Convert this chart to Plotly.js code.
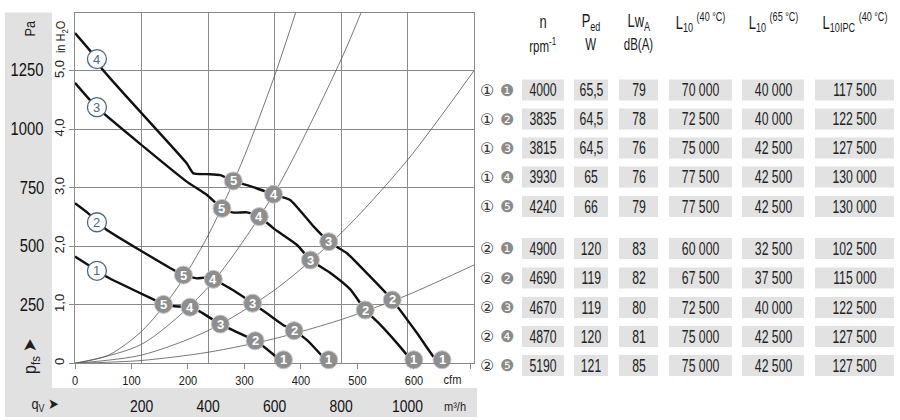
<!DOCTYPE html>
<html><head><meta charset="utf-8">
<script src="https://cdn.plot.ly/plotly-3.0.1.min.js"></script>
<style>html,body{margin:0;padding:0;background:#fff;}#chart{width:900px;height:420px;}</style>
</head><body><div id="chart"></div>
<script>
// ---------- DATA (flow in m³/h, pressure in Pa) ----------
const curve1Flow = [0, 40, 95, 251, 266, 295, 321, 346, 376, 437, 542, 557, 602, 627];
const curve1Pa   = [455, 419, 369, 262, 251, 244, 241, 239, 220, 167, 96, 82, 31, 0];
const curve2Flow = [0, 40, 93, 306, 326, 366, 391, 416, 476, 534, 577, 626, 659, 698, 763];
const curve2Pa   = [682, 639, 571, 390, 376, 362, 365, 358, 311, 256, 213, 163, 139, 99, 0];
const curve3Flow = [0, 65, 206, 336, 397, 442, 477, 517, 554, 597, 668, 708, 768, 828, 873, 918, 969, 1019];
const curve3Pa   = [1195, 1091, 923, 774, 717, 660, 642, 643, 625, 575, 504, 440, 385, 315, 227, 165, 85, 0];
const curve4Flow = [0, 66, 80, 336, 356, 397, 437, 476, 527, 597, 647, 718, 763, 818, 888, 954, 1029, 1079, 1104];
const curve4Pa   = [1407, 1296, 1257, 852, 809, 806, 802, 777, 755, 720, 696, 582, 518, 469, 369, 270, 128, 27, 0];

// system resistance lines (through operating points 5,4,3,2)
const sys5Flow = [0, 100, 200, 300, 400, 500, 600, 665];
const sys5Pa   = [0, 34, 136, 306, 544, 850, 1224, 1500];
const sys4Flow = [0, 200, 400, 600, 800, 865];
const sys4Pa   = [0, 81, 323, 727, 1293, 1510];
const sys3Flow = [0, 200, 400, 600, 800, 1000, 1200];
const sys3Pa   = [0, 35, 139, 312, 554, 866, 1247];
const sys2Flow = [0, 200, 400, 600, 800, 1000, 1200];
const sys2Pa   = [0, 12, 47, 105, 186, 291, 419];

// operating points 1..5 on each curve
const opLabels = ['1', '2', '3', '4', '5'];
const op1Flow = [627, 542, 437, 346, 266];
const op1Pa   = [15, 96, 167, 239, 251];
const op2Flow = [763, 659, 534, 416, 326];
const op2Pa   = [15, 139, 256, 358, 376];
const op3Flow = [1019, 873, 708, 554, 442];
const op3Pa   = [15, 227, 440, 625, 660];
const op4Flow = [1104, 954, 763, 597, 476];
const op4Pa   = [15, 270, 518, 720, 777];

// curve identification labels
const curveIds = ['1', '2', '3', '4'];
const curveIdFlow = [66, 66, 66, 66];
const curveIdPa = [394, 601, 1091, 1296];

// axis ticks
const m3hTicks = [200, 400, 600, 800, 1000];
const cfmTicks = [0, 100, 200, 300, 400, 500, 600, 700];
const cfmTickText = ['0', '100', '200', '300', '400', '500', '600', ' '];
const inH2OTicks = [0, 1, 2, 3, 4, 5];
const inH2OTickText = ['0', '1,0', '2,0', '3,0', '4,0', '5,0'];
const paTicks = [250, 500, 750, 1000, 1250];

// table
const rowVariant = ['①','①','①','①','①','②','②','②','②','②'];
const rowPoint   = ['❶','❷','❸','❹','❺','❶','❷','❸','❹','❺'];
const colRpm    = ['4000','3835','3815','3930','4240','4900','4690','4670','4870','5190'];
const colPed    = ['65,5','64,5','64,5','65','66','120','119','119','120','121'];
const colLwA    = ['79','78','76','76','79','83','82','80','81','85'];
const colL10_40 = ['70 000','72 500','75 000','77 500','77 500','60 000','67 500','72 500','75 000','75 000'];
const colL10_65 = ['40 000','40 000','42 500','42 500','42 500','32 500','37 500','40 000','42 500','42 500'];
const colL10IPC = ['117 500','122 500','127 500','130 000','130 000','102 500','115 000','122 500','127 500','127 500'];
const headLine1 = ['n', 'P<sub>ed</sub>', 'Lw<sub>A</sub>', 'L<sub>10</sub> <sup>(40 °C)</sup>', 'L<sub>10</sub> <sup>(65 °C)</sup>', 'L<sub>10IPC</sub> <sup>(40 °C)</sup>'];
const headLine2 = ['rpm<sup>-1</sup>', 'W', 'dB(A)', '', '', ''];

// ---------- LAYOUT HELPERS ----------
const W = 900, H = 420;
const px = x => x / W;
const py = y => 1 - y / H;
const SANS = "'Liberation Sans', Arial, Helvetica, sans-serif";
const GRID = '#8a8a8a';
const M3H_PER_CFM = 1.69901;
const PA_PER_INH2O = 249.09;

// horizontal condensing factors (reference uses a condensed Helvetica)
const squeeze = [];   // [annotation index, factor]
const annotations = [];
function note(text, x, y, size, color, sq, extra) {
  const a = Object.assign({text: text, x: px(x), y: py(y), xref: 'paper', yref: 'paper', showarrow: false,
    xanchor: 'center', yanchor: 'middle', font: {family: SANS, size: size, color: color || '#1e1e1e'}}, extra || {});
  if (sq) squeeze.push([annotations.length, sq]);
  annotations.push(a);
}
function dataLabels(xs, ys, labels, font) {
  xs.forEach((x, i) => annotations.push({text: labels[i], x: x, y: ys[i], xref: 'x', yref: 'y2', showarrow: false,
    xanchor: 'center', yanchor: 'middle', font: font}));
}

const traces = [];
// axis carriers (no visible marks) so that the inH2O and cfm scales are drawn
traces.push({x: [], y: [], xaxis: 'x', yaxis: 'y', type: 'scatter', mode: 'markers', showlegend: false, hoverinfo: 'skip'});
traces.push({x: [], y: [], xaxis: 'x2', yaxis: 'y', type: 'scatter', mode: 'markers', showlegend: false, hoverinfo: 'skip'});

function sysLine(x, y) {
  traces.push({x: x, y: y, xaxis: 'x', yaxis: 'y2', mode: 'lines', type: 'scatter',
    line: {color: '#555', width: 0.8, shape: 'spline', smoothing: 0.8}, hoverinfo: 'skip', showlegend: false});
}
sysLine(sys5Flow, sys5Pa); sysLine(sys4Flow, sys4Pa); sysLine(sys3Flow, sys3Pa); sysLine(sys2Flow, sys2Pa);

function fanCurve(x, y) {
  traces.push({x: x, y: y, xaxis: 'x', yaxis: 'y2', mode: 'lines', type: 'scatter',
    line: {color: '#111', width: 2.4, shape: 'spline', smoothing: 0.5}, hoverinfo: 'skip', showlegend: false});
}
fanCurve(curve1Flow, curve1Pa); fanCurve(curve2Flow, curve2Pa); fanCurve(curve3Flow, curve3Pa); fanCurve(curve4Flow, curve4Pa);

const opFont = {family: SANS, size: 13, color: '#ffffff', weight: 'bold'};
function opPoints(x, y) {
  traces.push({x: x, y: y, xaxis: 'x', yaxis: 'y2', mode: 'markers', type: 'scatter', cliponaxis: false,
    marker: {size: 18, color: '#8e8e8e', line: {color: '#c8c8c8', width: 1}},
    hoverinfo: 'skip', showlegend: false});
  dataLabels(x, y, opLabels, opFont);
}
opPoints(op1Flow, op1Pa); opPoints(op2Flow, op2Pa); opPoints(op3Flow, op3Pa); opPoints(op4Flow, op4Pa);

traces.push({x: curveIdFlow, y: curveIdPa, xaxis: 'x', yaxis: 'y2', mode: 'markers', type: 'scatter', cliponaxis: false,
  marker: {size: 19, color: '#ffffff', line: {color: '#4b6a82', width: 1.3}},
  hoverinfo: 'skip', showlegend: false});
dataLabels(curveIdFlow, curveIdPa, curveIds, {family: SANS, size: 13, color: '#4b6a82'});

// ---------- SHAPES & ANNOTATIONS ----------
const shapes = [
  {type: 'rect', xref: 'paper', yref: 'paper', x0: px(5), x1: px(52), y0: py(417), y1: py(12.5), fillcolor: '#e1e1e1', line: {width: 0}, layer: 'below'},
  {type: 'rect', xref: 'paper', yref: 'paper', x0: px(5), x1: px(477), y0: py(417), y1: py(388), fillcolor: '#e1e1e1', line: {width: 0}, layer: 'below'}
];
note('Pa', 30, 29, 15, '#1e1e1e', 0.85, {textangle: -90});
note('in H<sub>2</sub>O', 61, 37, 13, '#1e1e1e', 0.85, {textangle: -90});
note('p<sub>fs</sub> ➤', 31, 356, 19, '#1e1e1e', 0.85, {textangle: -90});
note('q<sub>V</sub> ➤', 45, 404, 15, '#1e1e1e', 0.85);
note('m³/h', 455, 406, 13, '#1e1e1e', 0.85);
note('cfm', 453, 379, 13, '#1e1e1e', 0.85);

// table
const tableCols = [colRpm, colPed, colLwA, colL10_40, colL10_65, colL10IPC];
const colX0 = [522, 574, 619, 669, 742, 815];
const colX1 = [564, 608, 658, 732, 804, 894];
const rowY = [90, 119, 148, 177, 206.5, 248.5, 278, 307.5, 336.5, 365.5];
tableCols.forEach((col, c) => {
  const xc = (colX0[c] + colX1[c]) / 2;
  note(headLine1[c], xc, 22, 18, '#1a1a1a', 0.72);
  if (headLine2[c]) note(headLine2[c], xc, 45, 16, '#1a1a1a', 0.72);
  col.forEach((v, r) => {
    shapes.push({type: 'rect', xref: 'paper', yref: 'paper', x0: px(colX0[c]), x1: px(colX1[c]),
      y0: py(rowY[r] + 10.5), y1: py(rowY[r] - 10.5), fillcolor: '#e2e2e2', line: {width: 0}, layer: 'below'});
    note(v, xc, rowY[r], 18, '#222', 0.68);
  });
});
rowVariant.forEach((v, r) => {
  note(v, 487, rowY[r], 16, '#333', 0, {font: {family: 'DejaVu Sans, sans-serif', size: 16, color: '#333'}});
  note(rowPoint[r], 507, rowY[r], 16, '#8a8a8a', 0, {font: {family: 'DejaVu Sans, sans-serif', size: 16, color: '#8a8a8a'}});
});

const xDom = [px(75), px(474)];
const yDom = [py(363.3), py(12.5)];
const layout = {
  width: W, height: H, autosize: false,
  margin: {l: 0, r: 0, t: 0, b: 0, pad: 0},
  paper_bgcolor: '#fff', plot_bgcolor: '#fff',
  showlegend: false,
  xaxis: {domain: xDom, range: [0, 1200], anchor: 'y', tickvals: m3hTicks, ticktext: m3hTicks.map(String),
    showgrid: true, gridcolor: GRID, gridwidth: 1, zeroline: false, showline: true, linecolor: GRID, linewidth: 1, mirror: true,
    ticks: '', ticklabelstandoff: 27, tickfont: {family: SANS, size: 17, color: '#111'}},
  xaxis2: {overlaying: 'x', side: 'bottom', anchor: 'y', range: [0, 1200 / M3H_PER_CFM], tickvals: cfmTicks, ticktext: cfmTickText,
    showgrid: false, zeroline: false, showline: false, ticks: 'outside', ticklen: 5, tickcolor: GRID,
    tickfont: {family: SANS, size: 13, color: '#222'}},
  yaxis: {domain: yDom, range: [0, 6], anchor: 'x', tickvals: inH2OTicks, ticktext: inH2OTickText, tickangle: -90,
    showgrid: true, gridcolor: GRID, gridwidth: 1, zeroline: false, showline: true, linecolor: GRID, linewidth: 1, mirror: true,
    ticks: 'outside', ticklen: 5, tickcolor: GRID, tickfont: {family: SANS, size: 13, color: '#222'}},
  yaxis2: {overlaying: 'y', anchor: 'free', position: px(47), side: 'left', range: [0, 6 * PA_PER_INH2O], tickvals: paTicks,
    ticktext: paTicks.map(String), showgrid: false, zeroline: false, showline: false, ticks: '',
    tickfont: {family: SANS, size: 18, color: '#111'}},
  shapes: shapes,
  annotations: annotations
};

function condense(el, f) {
  if (!el) return;
  const bb = el.getBBox();
  const cx = bb.x + bb.width / 2;
  const prev = el.getAttribute('transform') || '';
  el.setAttribute('transform', prev + ' translate(' + cx + ',0) scale(' + f + ',1) translate(' + (-cx) + ',0)');
}
Plotly.newPlot('chart', traces, layout, {staticPlot: true, displayModeBar: false}).then(gd => {
  const sqMap = new Map(squeeze);
  gd.querySelectorAll('.annotation').forEach(g => {
    const idx = +g.getAttribute('data-index');
    if (sqMap.has(idx)) condense(g.querySelector('text.annotation-text'), sqMap.get(idx));
  });
  gd.querySelectorAll('.y2tick text').forEach(t => condense(t, 0.82));
  gd.querySelectorAll('.xtick text').forEach(t => condense(t, 0.82));
  gd.querySelectorAll('.x2tick text').forEach(t => condense(t, 0.85));
});
</script></body></html>
